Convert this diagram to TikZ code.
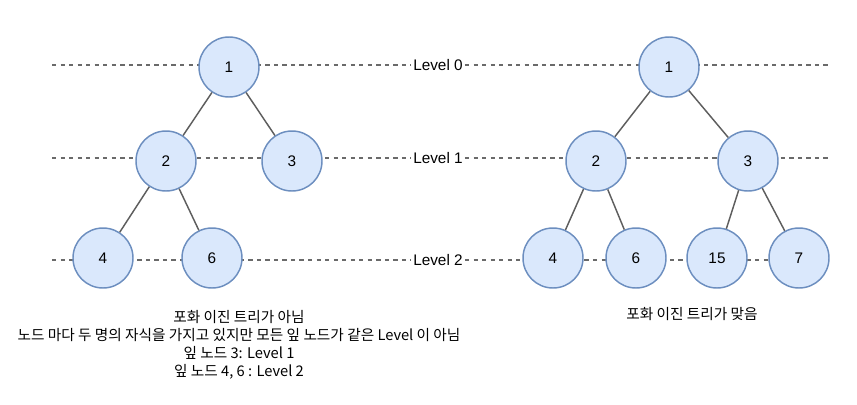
\documentclass[tikz,border=0pt]{standalone}
\usepackage{fontspec}
\setmainfont{Liberation Sans}
\newfontfamily\krfont{Noto Sans CJK KR}
\definecolor{nodefill}{HTML}{DAE8FC}
\definecolor{nodeline}{HTML}{6C8EBF}
\definecolor{edgecol}{HTML}{5E5E5E}
\definecolor{dashcol}{HTML}{6A6A6A}
\begin{document}
\begin{tikzpicture}[
x=0.75pt,y=-0.75pt,
treenode/.style={circle,draw=nodeline,fill=nodefill,line width=1.1pt,minimum size=45pt,inner sep=0pt,font=\fontsize{11.5}{13}\selectfont},
treeedge/.style={draw=edgecol,line width=1.1pt},
levelline/.style={draw=dashcol,line width=0.9pt,dash pattern=on 3.2pt off 3.2pt},
lvlabel/.style={inner sep=1.5pt,font=\fontsize{11.5}{13}\selectfont},
caption/.style={align=center,font=\krfont\fontsize{11}{13.5}\selectfont}
]
\useasboundingbox (0,0) rectangle (857,404);

% level guides
\foreach \lv/\y in {0/65,1/158,2/260}
{
\coordinate (ls\lv) at (52,\y);
\coordinate (le\lv) at (830,\y);
\node[lvlabel] (lv\lv) at (438,\y) {Level \lv};
\draw[levelline] (ls\lv) -- (lv\lv);
\draw[levelline] (lv\lv) -- (le\lv);
}

% left tree
\node[treenode] (l1) at (229,67) {1};
\node[treenode] (l2) at (166,161) {2};
\node[treenode] (l3) at (292,161) {3};
\node[treenode] (l4) at (103,258) {4};
\node[treenode] (l6) at (212,258) {6};
\draw[treeedge] (l1) -- (l2);
\draw[treeedge] (l1) -- (l3);
\draw[treeedge] (l2) -- (l4);
\draw[treeedge] (l2) -- (l6);

% right tree
\node[treenode] (r1) at (669,67) {1};
\node[treenode] (r2) at (596,161) {2};
\node[treenode] (r3) at (748,161) {3};
\node[treenode] (r4) at (553,258) {4};
\node[treenode] (r6) at (636,258) {6};
\node[treenode] (r15) at (717,258) {15};
\node[treenode] (r7) at (799,258) {7};
\draw[treeedge] (r1) -- (r2);
\draw[treeedge] (r1) -- (r3);
\draw[treeedge] (r2) -- (r4);
\draw[treeedge] (r2) -- (r6);
\draw[treeedge] (r3) -- (r15);
\draw[treeedge] (r3) -- (r7);

% captions
\node[caption] (capl) at (239,345) {포화 이진 트리가 아님\\노드 마다 두 명의 자식을 가지고 있지만 모든 잎 노드가 같은 Level 이 아님\\잎 노드 3: Level 1\\잎 노드 4, 6 : Level 2};
\node[caption] (capr) at (692,314) {포화 이진 트리가 맞음};
\end{tikzpicture}
\end{document}
